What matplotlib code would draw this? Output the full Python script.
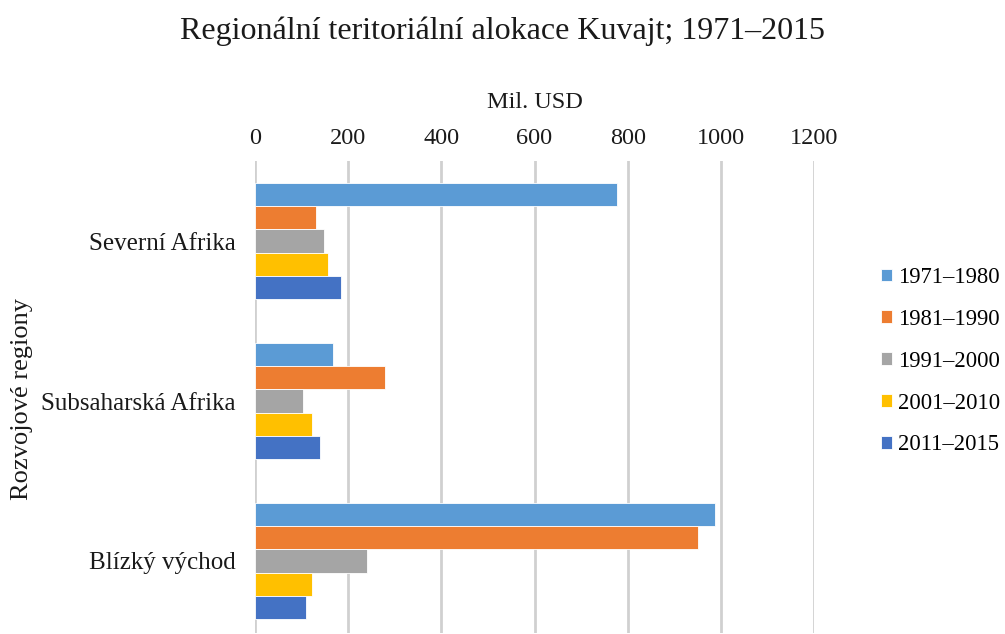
import numpy as np
import matplotlib.pyplot as plt

# data (Mil. USD)
regions = ['Severní Afrika', 'Subsaharská Afrika', 'Blízký východ']
periods = ['1971–1980', '1981–1990', '1991–2000', '2001–2010', '2011–2015']
v_1971_1980 = [778, 168, 988]
v_1981_1990 = [131, 280, 952]
v_1991_2000 = [148, 104, 241]
v_2001_2010 = [156, 123, 123]
v_2011_2015 = [184, 140, 110]
values = [v_1971_1980, v_1981_1990, v_1991_2000, v_2001_2010, v_2011_2015]
colors = ['#5B9BD5', '#ED7D31', '#A5A5A5', '#FFC000', '#4472C4']
xticks = [0, 200, 400, 600, 800, 1000, 1200]

plt.rcParams['font.family'] = ['Liberation Serif', 'DejaVu Serif']

fig = plt.figure(figsize=(10.05, 6.34), dpi=100)
ax = fig.add_axes([255 / 1005, 1 - 633 / 634, (814 - 255) / 1005, (633 - 161) / 634])

y = np.arange(len(regions))
h = 0.144
for i, (vals, c) in enumerate(zip(values, colors)):
    ax.barh(y + (i - 2) * h, vals, height=h, color=c, edgecolor='white',
            linewidth=0.6, label=periods[i], zorder=3)

ax.set_xlim(0, 1200)
ax.set_ylim(2.45, -0.5)
ax.set_xticks(xticks)
ax.xaxis.tick_top()
ax.xaxis.set_label_position('top')
ax.tick_params(axis='x', length=0, pad=9, labelsize=17.5, colors='#1a1a1a')
ax.tick_params(axis='y', length=0, pad=14, labelsize=18, colors='#1a1a1a')
ax.set_yticks(y)
ax.set_yticklabels(regions)
ax.grid(axis='x', color='#D0D0D0', linewidth=2, zorder=0)
for s in ax.spines.values():
    s.set_visible(False)

ax.set_xlabel('Mil. USD', fontsize=17.5, color='#1a1a1a', labelpad=14)
fig.text(22 / 1005, 1 - 399 / 634, 'Rozvojové regiony', rotation=90, fontsize=19,
         color='#1a1a1a', ha='center', va='center')
fig.text(502 / 1005, 1 - 31 / 634, 'Regionální teritoriální alokace Kuvajt; 1971–2015',
         fontsize=23, color='#1a1a1a', ha='center', va='center')

fig.legend(loc='upper left', bbox_to_anchor=(872 / 1005, 1 - 258 / 634),
           frameon=False, fontsize=16.3, handlelength=0.5, handleheight=0.5,
           handletextpad=0.25, labelspacing=0.92, borderaxespad=0)

fig.savefig('out.png', dpi=100)
